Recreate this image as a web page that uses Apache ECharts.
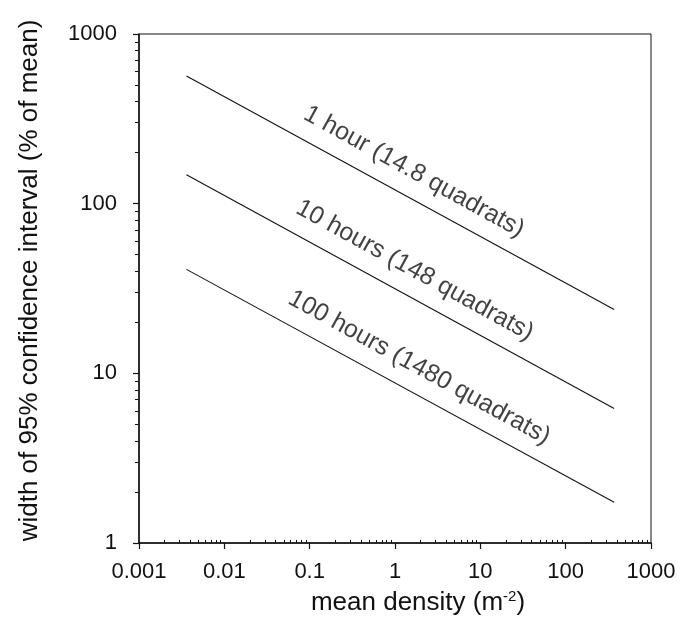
<!DOCTYPE html>
<html>
<head>
<meta charset="utf-8">
<script src="https://cdn.jsdelivr.net/npm/echarts@6/dist/echarts.min.js"></script>
<style>
  html, body { margin: 0; padding: 0; background: #fff; }
  #chart { width: 690px; height: 641px; }
</style>
</head>
<body>
<div id="chart"></div>
<script>
// Mean density at the two ends of each curve (m^-2)
const densityEnds = [0.0036, 370];
// Width of the 95% confidence interval (% of mean) at those ends
const widthOneHour = [566, 23.8];
const widthTenHours = [148, 6.2];
const widthHundredHours = [41, 1.74];

const curveNames = ['1 hour (14.8 quadrats)', '10 hours (148 quadrats)', '100 hours (1480 quadrats)'];
// Where each curve's caption sits, in data units [density, width]
const captionAnchors = [[1.67, 154], [1.70, 40.4], [1.92, 10.8]];

const xTickLabels = ['0.001', '0.01', '0.1', '1', '10', '100', '1000'];
const yTickLabels = ['1', '10', '100', '1000'];
const xMinorTicks = [];
const yMinorTicks = [];
[0.001, 0.01, 0.1, 1, 10, 100].forEach(d => { for (let k = 2; k <= 9; k++) xMinorTicks.push(+(d * k).toPrecision(3)); });
[1, 10, 100].forEach(d => { for (let k = 2; k <= 9; k++) yMinorTicks.push(d * k); });

const FONT = "'Liberation Sans', Arial, sans-serif";
const INK = '#111';

const curves = [widthOneHour, widthTenHours, widthHundredHours];

const lineSeries = curves.map((vals, i) => ({
  type: 'line',
  name: curveNames[i],
  data: densityEnds.map((d, j) => [d, vals[j]]),
  symbol: 'none',
  lineStyle: { color: INK, width: 1.1 },
  silent: true,
  z: 3
}));

const captionSeries = captionAnchors.map((pt, i) => ({
  type: 'scatter',
  data: [pt],
  symbolSize: 0,
  silent: true,
  label: {
    show: true,
    position: 'inside',
    formatter: curveNames[i],
    rotate: -28.8,
    fontFamily: FONT,
    fontSize: 25,
    color: INK
  },
  z: 4
}));

// Minor tick overlay axes (no labels, no line)
const minorX = {
  type: 'log', logBase: 10, min: 0.001, max: 1000, gridIndex: 0, position: 'bottom',
  axisLine: { show: false }, axisLabel: { show: false }, splitLine: { show: false },
  axisTick: { show: true, inside: true, length: 3, customValues: xMinorTicks, lineStyle: { color: INK, width: 1 } }
};
const minorY = {
  type: 'log', logBase: 10, min: 1, max: 1000, gridIndex: 0, position: 'left',
  axisLine: { show: false }, axisLabel: { show: false }, splitLine: { show: false },
  axisTick: { show: true, inside: false, length: 4, customValues: yMinorTicks, lineStyle: { color: INK, width: 1 } }
};

const option = {
  backgroundColor: '#fff',
  animation: false,
  grid: {
    left: 139, right: 39, top: 34, bottom: 98,
    show: true, borderColor: INK, borderWidth: 1, backgroundColor: 'transparent'
  },
  xAxis: [{
    type: 'log', logBase: 10, min: 0.001, max: 1000, position: 'bottom',
    name: 'mean density (m{sup|-2})',
    nameLocation: 'middle', nameGap: 46,
    nameTextStyle: {
      fontFamily: FONT, fontSize: 26, color: INK, padding: [0, 0, 0, 46],
      rich: { sup: { fontFamily: FONT, fontSize: 15, color: INK, verticalAlign: 'top', padding: [0, 0, 13, 0] } }
    },
    axisLine: { show: true, lineStyle: { color: INK, width: 1.5 } },
    axisTick: { show: true, inside: false, length: 6, lineStyle: { color: INK, width: 1.2 } },
    minorTick: { show: false },
    splitLine: { show: false },
    axisLabel: {
      fontFamily: FONT, fontSize: 22, color: INK, margin: 18,
      formatter: (v) => xTickLabels[Math.round(Math.log10(v)) + 3]
    }
  }, minorX],
  yAxis: [{
    type: 'log', logBase: 10, min: 1, max: 1000, position: 'left',
    name: 'width of 95% confidence interval (% of mean)',
    nameLocation: 'middle', nameGap: 96, nameRotate: 90,
    nameTextStyle: { fontFamily: FONT, fontSize: 26, color: INK, padding: [0, 0, 0, 16] },
    axisLine: { show: true, lineStyle: { color: INK, width: 1.5 } },
    axisTick: { show: true, inside: false, length: 6, lineStyle: { color: INK, width: 1.2 } },
    minorTick: { show: false },
    splitLine: { show: false },
    axisLabel: {
      fontFamily: FONT, fontSize: 22, color: INK, margin: 22,
      formatter: (v) => yTickLabels[Math.round(Math.log10(v))]
    }
  }, minorY],
  series: [...lineSeries, ...captionSeries]
};

const chart = echarts.init(document.getElementById('chart'), null, { renderer: 'canvas' });
chart.setOption(option);
</script>
</body>
</html>
